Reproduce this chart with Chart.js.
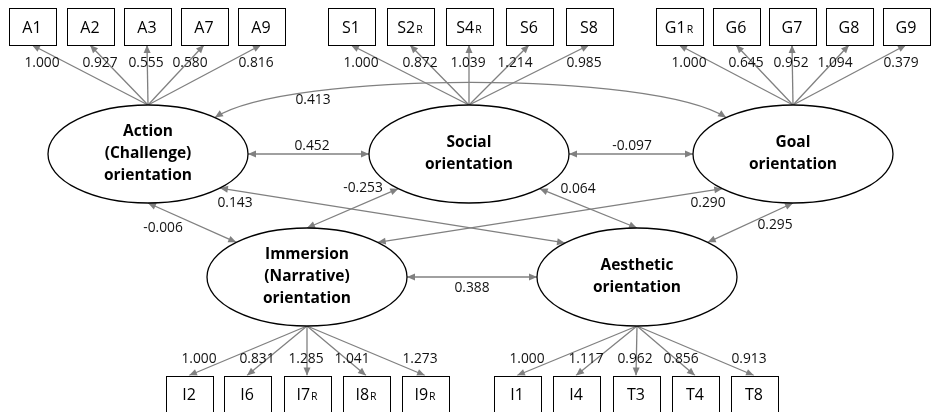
<!DOCTYPE html>
<html>
<head>
<meta charset="utf-8">
<script src="https://cdn.jsdelivr.net/npm/chart.js@4/dist/chart.umd.min.js"></script>
<style>
  html, body { margin: 0; padding: 0; background: #fff; }
  #wrap { width: 935px; height: 412px; }
</style>
</head>
<body>
<div id="wrap"><canvas id="semChart" width="935" height="412"></canvas></div>
<script>
// Latent factors
const factorNames = ['Action\n(Challenge)\norientation', 'Social\norientation', 'Goal\norientation',
  'Immersion\n(Narrative)\norientation', 'Aesthetic\norientation'];

// Observed items and loadings per factor
const actionItems = ['A1', 'A2', 'A3', 'A7', 'A9'];
const actionLoadings = [1.000, 0.927, 0.555, 0.580, 0.816];
const socialItems = ['S1', 'S2R', 'S4R', 'S6', 'S8'];
const socialLoadings = [1.000, 0.872, 1.039, 1.214, 0.985];
const goalItems = ['G1R', 'G6', 'G7', 'G8', 'G9'];
const goalLoadings = [1.000, 0.645, 0.952, 1.094, 0.379];
const immersionItems = ['I2', 'I6', 'I7R', 'I8R', 'I9R'];
const immersionLoadings = [1.000, 0.831, 1.285, 1.041, 1.273];
const aestheticItems = ['I1', 'I4', 'T3', 'T4', 'T8'];
const aestheticLoadings = [1.000, 1.117, 0.962, 0.856, 0.913];

// Factor covariances (pairs of factor indexes)
const covPairs = [[0, 1], [1, 2], [3, 4], [0, 2], [0, 3], [0, 4], [1, 3], [1, 4], [2, 3], [2, 4]];
const covValues = [0.452, -0.097, 0.388, 0.413, -0.006, 0.143, -0.253, 0.064, 0.290, 0.295];

// ---- layout (diagram space, 935 x 412) ----
const factorX = [148, 469, 793, 307, 637];
const factorY = [154, 154, 154, 277, 277];
const itemX = [
  [32, 90, 147, 204, 261],
  [351, 410, 469, 529, 589],
  [679, 736, 792, 849, 906],
  [189, 247, 307, 366, 425],
  [517, 576, 636, 695, 754]
];
const itemRowY = [26.5, 26.5, 26.5, 394, 394];
const loadLabelY = [63, 63, 63, 359, 359];
const loadLabelDX = [10, 10, -1, -14, -5];
// angles on each ellipse where the covariance arrows start / end
const covAngles = [[0, 180], [0, 180], [0, 180], [-48, -132], [90, -135], [44, -136], [135, -90], [45, -90], [135, -45], [90, -45]];
const covLabelXY = [[312, 100 + 46], [632, 146], [472, 288], [313, 100], [163, 228], [235, 203], [363, 188], [578, 189], [708, 203], [775, 225]];

const RX = 100, RY = 49, BOX_W = 47, BOX_H = 37;
const LINE = '#808080';
const FONT = '"Open Sans", "DejaVu Sans", sans-serif';

const groups = [
  { items: actionItems, loads: actionLoadings },
  { items: socialItems, loads: socialLoadings },
  { items: goalItems, loads: goalLoadings },
  { items: immersionItems, loads: immersionLoadings },
  { items: aestheticItems, loads: aestheticLoadings }
];

function arrowHead(ctx, x, y, ang) {
  const len = 8, half = 3.5;
  ctx.beginPath();
  ctx.moveTo(x, y);
  ctx.lineTo(x - len * Math.cos(ang) + half * Math.sin(ang), y - len * Math.sin(ang) - half * Math.cos(ang));
  ctx.lineTo(x - len * Math.cos(ang) - half * Math.sin(ang), y - len * Math.sin(ang) + half * Math.cos(ang));
  ctx.closePath();
  ctx.fill();
}

function itemLabel(ctx, name, x, y) {
  const hasR = name.length === 3 && name.endsWith('R');
  const base = hasR ? name.slice(0, 2) : name;
  ctx.font = '16px ' + FONT;
  const w1 = ctx.measureText(base).width;
  let w2 = 0;
  if (hasR) {
    ctx.font = '10.5px ' + FONT;
    w2 = ctx.measureText('R').width + 1;
  }
  const left = x - (w1 + w2) / 2;
  ctx.textAlign = 'left';
  ctx.textBaseline = 'alphabetic';
  ctx.font = '16px ' + FONT;
  ctx.fillText(base, left, y + 6);
  if (hasR) {
    ctx.font = '10.5px ' + FONT;
    ctx.fillText('R', left + w1 + 1, y + 6);
  }
}

const semPlugin = {
  id: 'semDiagram',
  afterDatasetsDraw(chart) {
    const ctx = chart.ctx;
    const xs = chart.scales.x, ys = chart.scales.y;
    const px = v => xs.getPixelForValue(v);
    const py = v => ys.getPixelForValue(v);
    const rx = px(RX) - px(0), ry = py(RY) - py(0);
    const edge = (f, deg) => {
      const t = deg * Math.PI / 180;
      return [px(factorX[f]) + rx * Math.cos(t), py(factorY[f]) + ry * Math.sin(t)];
    };

    ctx.save();
    ctx.strokeStyle = LINE;
    ctx.fillStyle = LINE;
    ctx.lineWidth = 1.3;

    // loadings: factor -> items
    groups.forEach((g, f) => {
      const top = f < 3;
      const ox = px(factorX[f]);
      const oy = py(factorY[f]) + (top ? -ry : ry);
      g.items.forEach((name, i) => {
        const tx = px(itemX[f][i]);
        const ty = py(itemRowY[f]) + (top ? BOX_H / 2 : -BOX_H / 2);
        ctx.beginPath();
        ctx.moveTo(ox, oy);
        ctx.lineTo(tx, ty);
        ctx.stroke();
        arrowHead(ctx, tx, ty, Math.atan2(ty - oy, tx - ox));
      });
    });

    // covariances
    covPairs.forEach((p, k) => {
      const a = edge(p[0], covAngles[k][0]);
      const b = edge(p[1], covAngles[k][1]);
      if (covValues[k] === 0.413) {
        // curved link across the top
        const c1 = [a[0] + 72, a[1] - 47], c2 = [b[0] - 72, b[1] - 47];
        ctx.beginPath();
        ctx.moveTo(a[0], a[1]);
        ctx.bezierCurveTo(c1[0], c1[1], c2[0], c2[1], b[0], b[1]);
        ctx.stroke();
        arrowHead(ctx, a[0], a[1], Math.atan2(a[1] - c1[1], a[0] - c1[0]));
        arrowHead(ctx, b[0], b[1], Math.atan2(b[1] - c2[1], b[0] - c2[0]));
      } else {
        ctx.beginPath();
        ctx.moveTo(a[0], a[1]);
        ctx.lineTo(b[0], b[1]);
        ctx.stroke();
        const ang = Math.atan2(b[1] - a[1], b[0] - a[0]);
        arrowHead(ctx, b[0], b[1], ang);
        arrowHead(ctx, a[0], a[1], ang + Math.PI);
      }
    });

    // ellipses
    ctx.strokeStyle = '#000';
    ctx.lineWidth = 1.3;
    factorNames.forEach((name, f) => {
      const cx = px(factorX[f]), cy = py(factorY[f]);
      ctx.beginPath();
      ctx.ellipse(cx, cy, rx, ry, 0, 0, Math.PI * 2);
      ctx.fillStyle = '#fff';
      ctx.fill();
      ctx.stroke();
      const lines = name.split('\n');
      ctx.fillStyle = '#000';
      ctx.font = 'bold 15.5px ' + FONT;
      ctx.textAlign = 'center';
      ctx.textBaseline = 'middle';
      lines.forEach((ln, j) => {
        ctx.fillText(ln, cx, cy + (j - (lines.length - 1) / 2) * 22);
      });
    });

    // item boxes
    ctx.lineWidth = 1;
    groups.forEach((g, f) => {
      g.items.forEach((name, i) => {
        const cx = px(itemX[f][i]), cy = py(itemRowY[f]);
        ctx.fillStyle = '#fff';
        ctx.fillRect(cx - BOX_W / 2, cy - BOX_H / 2, BOX_W, BOX_H);
        ctx.strokeRect(Math.round(cx - BOX_W / 2) + 0.5, Math.round(cy - BOX_H / 2) + 0.5, BOX_W, BOX_H);
        ctx.fillStyle = '#000';
        itemLabel(ctx, name, cx, cy);
      });
    });

    // numeric labels
    ctx.fillStyle = '#111';
    ctx.font = '13.8px ' + FONT;
    ctx.textAlign = 'center';
    ctx.textBaseline = 'middle';
    groups.forEach((g, f) => {
      g.loads.forEach((v, i) => {
        ctx.fillText(v.toFixed(3), px(itemX[f][i] + loadLabelDX[i]), py(loadLabelY[f]));
      });
    });
    covValues.forEach((v, k) => {
      ctx.fillText(v.toFixed(3), px(covLabelXY[k][0]), py(covLabelXY[k][1]));
    });
    ctx.restore();
  }
};

new Chart(document.getElementById('semChart'), {
  type: 'scatter',
  data: {
    datasets: [{
      label: 'factors',
      data: factorX.map((x, i) => ({ x: x, y: factorY[i] })),
      pointRadius: 0
    }]
  },
  options: {
    responsive: false,
    animation: false,
    layout: { padding: 0 },
    plugins: { legend: { display: false }, tooltip: { enabled: false } },
    scales: {
      x: { type: 'linear', min: 0, max: 935, display: false },
      y: { type: 'linear', min: 0, max: 412, reverse: true, display: false }
    }
  },
  plugins: [semPlugin]
});
</script>
</body>
</html>
